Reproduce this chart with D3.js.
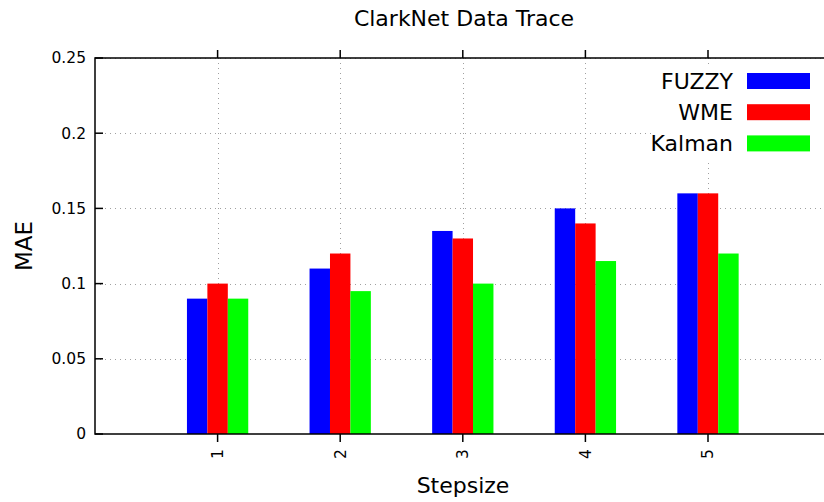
<!DOCTYPE html>
<html><head><meta charset="utf-8">
<script src="https://cdn.jsdelivr.net/npm/d3@7"></script>
<style>body{margin:0;background:#fff}svg{display:block}text{font-family:"DejaVu Sans",sans-serif}</style>
</head><body><svg id="c" width="824" height="502"></svg>
<script>
const categories = ["1","2","3","4","5"];
const seriesNames = ["FUZZY","WME","Kalman"];
const fuzzy  = [0.09, 0.11, 0.135, 0.15, 0.16];
const wme    = [0.10, 0.12, 0.13, 0.14, 0.16];
const kalman = [0.09, 0.095, 0.10, 0.115, 0.12];
const yTicks = [0, 0.05, 0.1, 0.15, 0.2, 0.25];
const yTickLabels = ["0","0.05","0.1","0.15","0.2","0.25"];
const colors = ["#0000ff","#ff0000","#00ff00"];
const series = [fuzzy, wme, kalman];

const svg = d3.select("#c");
const L = 95, T = 58, B = 434;
const step = 122.6;
const x = d3.scaleLinear().domain([-1, 5]).range([L, L + 6*step]);
const R = 824;
const y = d3.scaleLinear().domain([0, 0.25]).range([B, T]);
const barW = step/6;

// grid
const grid = svg.append("g").attr("stroke","#a0a0a0").attr("stroke-width",1).attr("stroke-dasharray","1,4");
yTicks.slice(1).forEach(v => grid.append("line").attr("x1",L).attr("x2",R).attr("y1",Math.round(y(v))+0.5).attr("y2",Math.round(y(v))+0.5));
categories.forEach((c,i) => grid.append("line").attr("x1",Math.round(x(i))+0.5).attr("x2",Math.round(x(i))+0.5).attr("y1",T).attr("y2",B));

// bars
series.forEach((s,k) => {
  svg.append("g").selectAll("rect").data(s).join("rect")
    .attr("x",(d,i)=>x(i) + (k-1.5)*barW)
    .attr("width",barW)
    .attr("y",d=>y(d))
    .attr("height",d=>B-y(d))
    .attr("fill",colors[k]);
});

// legend background
svg.append("rect").attr("x",653).attr("y",66).attr("width",171).attr("height",94).attr("fill","#fff");
seriesNames.forEach((n,k) => {
  const yy = 73 + k*31.2;
  svg.append("rect").attr("x",747).attr("y",yy).attr("width",63).attr("height",16).attr("fill",colors[k]);
  svg.append("text").attr("x",733).attr("y",yy+16).attr("text-anchor","end").attr("font-size",22).attr("fill","#000").text(n);
});

// border
const ax = svg.append("g").attr("stroke","#000").attr("stroke-width",1.5).attr("fill","none");
ax.append("path").attr("d",`M${R},${T}H${L}V${B}H${R}`);
yTicks.forEach(v => ax.append("line").attr("x1",L).attr("x2",L+8).attr("y1",y(v)).attr("y2",y(v)));
categories.forEach((c,i) => {
  ax.append("line").attr("x1",x(i)).attr("x2",x(i)).attr("y1",B).attr("y2",B+8);
  ax.append("line").attr("x1",x(i)).attr("x2",x(i)).attr("y1",T).attr("y2",T-8);
});

// tick labels
yTicks.forEach((v,i) => svg.append("text").attr("x",86).attr("y",y(v)).attr("dy","0.35em").attr("text-anchor","end").attr("font-size",15.5).attr("fill","#000").text(yTickLabels[i]));
categories.forEach((c,i) => svg.append("text").attr("transform",`translate(${x(i)},${449}) rotate(-90)`).attr("dy","0.35em").attr("text-anchor","end").attr("font-size",15.5).attr("fill","#000").text(c));

// titles
svg.append("text").attr("x",464).attr("y",26).attr("text-anchor","middle").attr("font-size",22).attr("fill","#000").text("ClarkNet Data Trace");
svg.append("text").attr("x",463).attr("y",493).attr("text-anchor","middle").attr("font-size",22).attr("fill","#000").text("Stepsize");
svg.append("text").attr("transform","translate(32,246) rotate(-90)").attr("text-anchor","middle").attr("font-size",23).attr("fill","#000").text("MAE");
</script></body></html>
